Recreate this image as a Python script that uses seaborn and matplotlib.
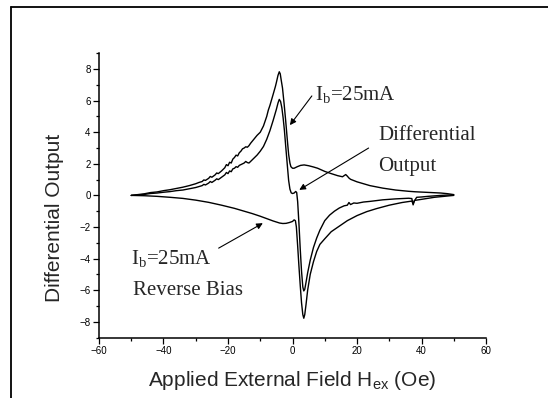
import numpy as np
import pandas as pd
import matplotlib
matplotlib.use("Agg")
import matplotlib.pyplot as plt
from matplotlib.lines import Line2D
from matplotlib.ticker import MultipleLocator
import seaborn as sns

# ---- data ----
ib_x = [-50.0, -48, -46, -44, -42, -40, -38, -36, -34, -32, -30, -29, -28, -27.5, -27,
        -26, -25.5, -25, -24, -23.5, -23, -22, -21, -20.5, -20, -19.5, -19, -18.5, -18,
        -17.5, -17, -16.5, -16, -15.5, -15, -14.5, -14, -13.5, -13, -12, -11, -10, -9,
        -8, -7.5, -7, -6, -5.3, -5, -4.5, -4.1, -3.8, -3.5, -3.1, -2.6, -2.1, -1.6, -1.2,
        -0.8, -0.5, 0.0, 0.5, 1.5, 2.5, 3.6, 5.0, 6.5, 7.8, 10.0, 12.0, 14.0, 15.5, 16.5,
        17.0, 17.5, 18.0, 20.0, 22.0, 24.0, 26.0, 28.0, 30.0, 32.0, 34.0, 36.0, 38.0,
        40.0, 42.0, 44.0, 46.0, 48.0, 50.0]
ib_y = [0.00, 0.05, 0.10, 0.18, 0.22, 0.30, 0.36, 0.44, 0.52, 0.62, 0.74, 0.82, 0.88, 0.98, 0.95,
        1.08, 1.20, 1.15, 1.30, 1.42, 1.38, 1.55, 1.75, 1.95, 1.88, 2.10, 2.05, 2.30, 2.40,
        2.55, 2.50, 2.70, 2.80, 2.95, 3.00, 3.08, 3.05, 3.15, 3.30, 3.55, 3.80, 4.00, 4.40,
        5.00, 5.40, 5.70, 6.40, 6.90, 7.15, 7.60, 7.83, 7.70, 7.30, 6.80, 5.80, 4.70, 3.50, 2.60,
        2.05, 1.82, 1.72, 1.72, 1.82, 1.90, 1.93, 1.88, 1.80, 1.72, 1.52, 1.38, 1.25, 1.18, 1.32,
        1.22, 1.10, 1.02, 0.86, 0.74, 0.62, 0.54, 0.46, 0.40, 0.34, 0.30, 0.26, 0.23,
        0.21, 0.19, 0.17, 0.15, 0.11, 0.05]

diff_x = [-50.0, -48, -46, -44, -42, -40, -38, -36, -34, -32, -30, -29, -28, -27.5, -27,
          -26, -25.5, -25, -24, -23.5, -23, -22, -21, -20.5, -20, -19.5, -19, -18.5, -18,
          -17.5, -17, -16.5, -16, -15.5, -15, -14.5, -14, -13.5, -13, -12, -11, -10, -9,
          -8, -7, -6, -5, -4.5, -4.1, -3.7, -3.3, -2.9, -2.5, -2.1, -1.6, -1.2, -0.8, -0.4,
          0.0, 0.5, 1.0, 1.3, 1.6, 2.0, 2.4, 2.8, 3.2, 3.5, 3.8, 4.2, 4.7, 5.5, 6.5, 7.5,
          8.5, 10.0, 11.5, 13.0, 14.5, 16.0, 17.0, 17.5, 18.0, 19.0, 20.0, 22.0, 24.0,
          26.0, 28.0, 30.0, 32.0, 34.0, 36.0, 37.0, 37.4, 37.8, 38.5, 40.0, 42.0, 44.0,
          46.0, 48.0, 50.0]
diff_y = [0.00, 0.03, 0.06, 0.12, 0.15, 0.20, 0.24, 0.30, 0.34, 0.42, 0.50, 0.56, 0.62, 0.70, 0.66,
          0.78, 0.88, 0.82, 0.96, 1.05, 1.00, 1.15, 1.30, 1.45, 1.38, 1.55, 1.50, 1.68, 1.72,
          1.82, 1.78, 1.90, 1.95, 2.00, 2.05, 2.15, 2.08, 2.05, 2.15, 2.35, 2.55, 2.80, 3.10,
          3.55, 4.10, 4.75, 5.45, 5.85, 6.08, 5.95, 5.55, 4.90, 4.10, 3.10, 1.90, 0.95, 0.40, 0.16,
          0.12, 0.15, 0.25, 0.18, -0.40, -1.80, -3.40, -4.80, -5.80, -6.05, -5.95, -5.50, -4.90,
          -4.10, -3.30, -2.70, -2.20, -1.60, -1.25, -1.00, -0.80, -0.66, -0.62, -0.45, -0.58,
          -0.48, -0.50, -0.42, -0.38, -0.33, -0.28, -0.25, -0.22, -0.20, -0.18, -0.20, -0.60,
          -0.35, -0.12, -0.10, -0.06, -0.03, 0.00, 0.02, 0.03]

rev_x = [-50.0, -46, -42, -38, -34, -30, -26, -22, -18, -15, -12.5, -10, -8, -6, -4, -3, -2,
         -1, 0.0, 0.5, 0.9, 1.2, 1.6, 2.0, 2.4, 2.8, 3.2, 3.5, 3.8, 4.2, 4.7, 5.5, 6.5, 7.5,
         8.5, 10.0, 12.0, 14.5, 17.0, 20.0, 23.0, 26.0, 30.0, 34.0, 37.0, 37.4, 37.8, 40.0,
         44.0, 48.0, 50.0]
rev_y = [0.00, -0.02, -0.06, -0.12, -0.19, -0.30, -0.44, -0.62, -0.82, -1.00, -1.15, -1.32,
         -1.47, -1.62, -1.75, -1.78, -1.77, -1.72, -1.65, -1.55, -1.60, -2.00, -3.20, -4.50,
         -5.70, -6.80, -7.55, -7.78, -7.55, -6.90, -6.00, -5.00, -4.20, -3.55, -3.10, -2.75,
         -2.30, -1.95, -1.60, -1.28, -1.03, -0.84, -0.62, -0.45, -0.36, -0.52, -0.32, -0.25,
         -0.12, -0.04, 0.00]

x_ticks = [-60, -40, -20, 0, 20, 40, 60]
y_ticks = [-8, -6, -4, -2, 0, 2, 4, 6, 8]

# ---- style ----
sns.set_style("ticks")
plt.rcParams["font.family"] = ["Liberation Sans", "DejaVu Sans"]
plt.rcParams["mathtext.fontset"] = "custom"
plt.rcParams["mathtext.rm"] = "Liberation Sans"

W, H = 548, 398
fig = plt.figure(figsize=(W / 100, H / 100), dpi=100)
ax = fig.add_axes([99 / W, 1 - 337.5 / H, (486 - 99) / W, (337.5 - 53.3) / H])

frames = [
    pd.DataFrame({"x": ib_x, "y": ib_y, "s": "ib"}),
    pd.DataFrame({"x": diff_x, "y": diff_y, "s": "diff"}),
    pd.DataFrame({"x": rev_x, "y": rev_y, "s": "rev"}),
]
for df in frames:
    sns.lineplot(data=df, x="x", y="y", ax=ax, sort=False, estimator=None,
                 color="black", lw=1.0, legend=False)

ax.set_xlim(-60, 60)
ax.set_ylim(-9, 9)
ax.set_xticks(x_ticks)
ax.set_yticks(y_ticks)
ax.xaxis.set_minor_locator(MultipleLocator(10))
ax.yaxis.set_minor_locator(MultipleLocator(1))
ax.set_xlabel("")
ax.set_ylabel("")
sns.despine(ax=ax)
for sp in ["left", "bottom"]:
    ax.spines[sp].set_linewidth(1.1)
    ax.spines[sp].set_color("black")
ax.tick_params(which="major", direction="out", length=4, width=0.9, labelsize=7,
               pad=2, colors="black")
ax.tick_params(which="minor", direction="out", length=2.2, width=0.9, colors="black")

# axis labels
fig.text(55 / W, 1 - 218 / H, "Differential Output", rotation=90, ha="center",
         va="center", fontsize=15)
fig.text(292.5 / W, 1 - 386.5 / H, r"Applied External Field H$_{\mathregular{ex}}$ (Oe)",
         ha="center", va="baseline", fontsize=15)

# annotations
serif = ["Liberation Serif", "DejaVu Serif"]
ax.text(6.9, 6.0, r"I$_{\mathregular{b}}$=25mA", family=serif, fontsize=15,
        ha="left", va="baseline")
ax.text(26.6, 3.5, "Differential", family=serif, fontsize=15, ha="left", va="baseline")
ax.text(26.6, 1.55, "Output", family=serif, fontsize=15, ha="left", va="baseline")
ax.text(-50.0, -4.4, r"I$_{\mathregular{b}}$=25mA", family=serif, fontsize=15,
        ha="left", va="baseline")
ax.text(-49.4, -6.3, "Reverse Bias", family=serif, fontsize=15, ha="left", va="baseline")

arrow = dict(arrowstyle="-|>", color="black", lw=0.8, mutation_scale=9,
             shrinkA=0, shrinkB=0)
ax.annotate("", xy=(-0.8, 4.45), xytext=(6.0, 6.3), arrowprops=arrow)
ax.annotate("", xy=(2.1, 0.35), xytext=(23.6, 3.0), arrowprops=arrow)
ax.annotate("", xy=(-9.2, -1.76), xytext=(-22.9, -3.34), arrowprops=arrow)

# outer frame (top and left edges only)
fig.add_artist(Line2D([10.7 / W, 1.0], [1 - 7 / H, 1 - 7 / H], transform=fig.transFigure,
                      color="black", lw=1.3))
fig.add_artist(Line2D([10.7 / W, 10.7 / W], [0.0, 1 - 7 / H], transform=fig.transFigure,
                      color="black", lw=1.3))

fig.savefig("out.png", dpi=100)
